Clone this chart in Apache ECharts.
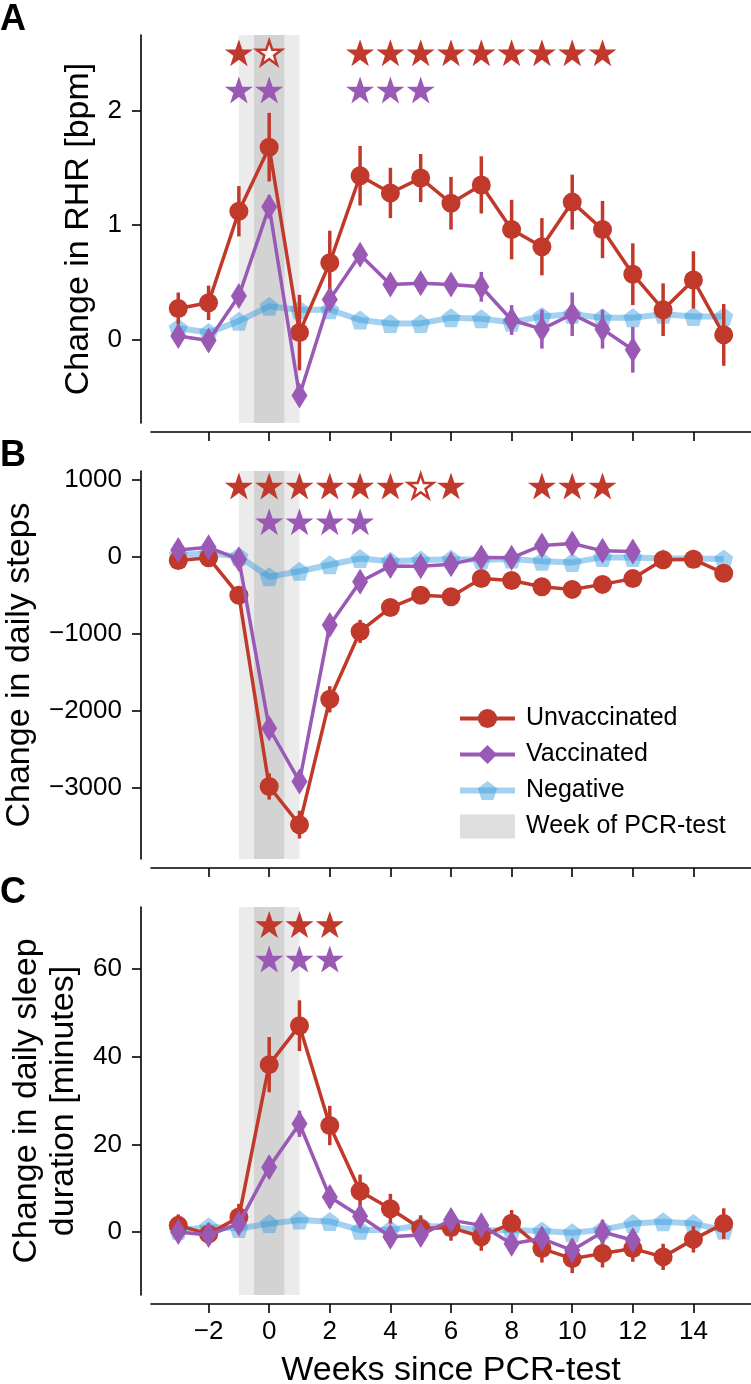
<!DOCTYPE html>
<html>
<head>
<meta charset="utf-8">
<script src="https://cdn.jsdelivr.net/npm/echarts@6/dist/echarts.min.js"></script>
<style>
html,body{margin:0;padding:0;background:#fff;}
#chart{width:751px;height:1384px;}
</style>
</head>
<body>
<div id="chart"></div>
<script>
// weeks since PCR test (x values)
const weeks = [-3,-2,-1,0,1,2,3,4,5,6,7,8,9,10,11,12,13,14,15];
const weeksVacc = [-3,-2,-1,0,1,2,3,4,5,6,7,8,9,10,11,12];
const xTicks = [-2,0,2,4,6,8,10,12,14];
const pcrBands = [[-1,1,0],[-0.5,0.5,1]];

// A - resting heart rate
const rhrUnvacc    = [0.27,0.32,1.12,1.68,0.06,0.67,1.43,1.28,1.41,1.19,1.35,0.96,0.81,1.20,0.96,0.57,0.26,0.52,0.04];
const rhrUnvaccErr = [0.14,0.15,0.22,0.30,0.33,0.28,0.26,0.22,0.21,0.23,0.25,0.26,0.25,0.24,0.25,0.27,0.23,0.25,0.27];
const rhrVacc      = [0.03,-0.01,0.38,1.16,-0.49,0.35,0.74,0.48,0.49,0.48,0.46,0.17,0.09,0.22,0.09,-0.09];
const rhrVaccErr   = [0.06,0.06,0.07,0.10,0.08,0.08,0.08,0.07,0.07,0.07,0.13,0.13,0.17,0.19,0.17,0.20];
const rhrNeg       = [0.10,0.06,0.16,0.29,0.26,0.26,0.17,0.14,0.14,0.19,0.18,0.15,0.20,0.22,0.19,0.19,0.22,0.20,0.20];
const rhrTicks = [0,1,2];
const rhrStarsUnvacc = [-1,3,4,5,6,7,8,9,10,11];
const rhrStarsUnvaccOpen = [0];
const rhrStarsVacc = [-1,0,3,4,5];
const rhrStarRows = [2.505,2.18];

// B - daily steps
const stepsUnvacc    = [-50,-15,-500,-2980,-3475,-1850,-970,-660,-500,-520,-285,-310,-390,-425,-360,-285,-40,-35,-215];
const stepsUnvaccErr = [70,70,110,170,180,170,150,90,80,80,80,80,80,80,80,80,80,80,100];
const stepsVacc      = [85,120,-35,-2225,-2915,-885,-325,-120,-125,-100,-10,-15,145,170,75,65];
const stepsVaccErr   = [60,60,70,130,130,110,80,60,60,60,60,60,60,60,60,60];
const stepsNeg       = [20,45,0,-260,-190,-105,-25,-60,-45,-35,-40,-30,-60,-75,-10,-10,-25,-25,-30];
const stepsTicks = [-3000,-2000,-1000,0,1000];
const stepsStarsUnvacc = [-1,0,1,2,3,4,6,9,10,11];
const stepsStarsUnvaccOpen = [5];
const stepsStarsVacc = [0,1,2,3];
const stepsStarRows = [916,453];

// C - sleep duration
const sleepUnvacc    = [1.5,-0.5,3.4,38.2,47.1,24.3,9.3,5.3,0.8,1.0,-1.1,2.0,-3.8,-6.1,-4.9,-3.8,-5.7,-1.7,1.9];
const sleepUnvaccErr = [2.5,2.5,3.0,6.3,5.8,4.5,3.8,3.4,3.0,3.0,3.2,3.0,3.2,3.3,3.2,3.0,3.0,3.0,3.5];
const sleepVacc      = [0,-0.7,1.9,14.8,24.7,8.0,3.6,-1.1,-0.7,2.7,1.5,-2.7,-1.5,-4.2,0,-1.9];
const sleepVaccErr   = [2,2,2,2.5,3,2.5,2.5,2.3,2.3,2.3,2.3,2.3,2.5,2.5,2.8,2.5];
const sleepNeg       = [0.4,1.1,0.8,1.9,2.7,2.4,0.4,0.5,1.5,1.1,0.4,0.4,0.2,-0.2,0.5,1.9,2.3,1.9,0.4];
const sleepTicks = [0,20,40,60];
const sleepStarsUnvacc = [0,1,2];
const sleepStarsUnvaccOpen = [];
const sleepStarsVacc = [0,1,2];
const sleepStarRows = [70.2,62.3];

const FONT = '"Liberation Sans", Arial, Helvetica, sans-serif';
const RED = '#c0392b', PURPLE = '#9b59b6', BLUE = 'rgba(52,152,219,0.45)';
const STAR = 'path://M50,0L61.8,34.5L98,34.5L68.8,56L80,91L50,69.5L20,91L31.2,56L2,34.5L38.2,34.5Z';
const PENTAGON = 'path://M50,0L100,36.3L80.9,95.1L19.1,95.1L0,36.3Z';

const panels = [
    {title:'Change in RHR [bpm]', gap:44, min:-0.73, max:2.66, ticks:rhrTicks,
     unvacc:rhrUnvacc, unvaccErr:rhrUnvaccErr, vacc:rhrVacc, vaccErr:rhrVaccErr, neg:rhrNeg,
     starsU:rhrStarsUnvacc, starsUOpen:rhrStarsUnvaccOpen, starsV:rhrStarsVacc, rows:rhrStarRows},
    {title:'Change in daily steps', gap:97, min:-3920, max:1110, ticks:stepsTicks,
     unvacc:stepsUnvacc, unvaccErr:stepsUnvaccErr, vacc:stepsVacc, vaccErr:stepsVaccErr, neg:stepsNeg,
     starsU:stepsStarsUnvacc, starsUOpen:stepsStarsUnvaccOpen, starsV:stepsStarsVacc, rows:stepsStarRows},
    {title:'Change in daily sleep\nduration [minutes]', gap:59, min:-14.4, max:74.2, ticks:sleepTicks,
     unvacc:sleepUnvacc, unvaccErr:sleepUnvaccErr, vacc:sleepVacc, vaccErr:sleepVaccErr, neg:sleepNeg,
     starsU:sleepStarsUnvacc, starsUOpen:sleepStarsUnvaccOpen, starsV:sleepStarsVacc, rows:sleepStarRows}
];
const gridTops = [35,471,907];

const minus = v => String(v).replace('-', '\u2212');
const pairs = (xs, ys) => ys.map((y,i)=>[xs[i], y]);
const errData = (xs, ys, es) => ys.map((y,i)=>[xs[i], y-es[i], y+es[i]]);

function errRender(color){
    return function(params, api){
        const a = api.coord([api.value(0), api.value(1)]);
        const b = api.coord([api.value(0), api.value(2)]);
        return {type:'line', shape:{x1:a[0],y1:a[1],x2:b[0],y2:b[1]}, style:{stroke:color, lineWidth:3.5}};
    };
}
function bandRender(params, api){
    const x0 = api.coord([api.value(0), 0])[0];
    const x1 = api.coord([api.value(1), 0])[0];
    const cs = params.coordSys;
    return {type:'rect', shape:{x:x0, y:cs.y, width:x1-x0, height:cs.height},
            style:{fill: api.value(2)===0 ? '#ebebeb' : '#d3d3d3'}};
}

const grid=[], xAxis=[], yAxis=[], series=[];
panels.forEach((p,i)=>{
    grid.push({left:151, width:600, top:gridTops[i], height:388, containLabel:false, outerBoundsMode:'none'});
    xAxis.push({
        type:'value', gridIndex:i, min:-3.9, max:15.9, offset:9,
        name: i===2 ? 'Weeks since PCR-test' : '', nameLocation:'middle', nameGap:50,
        nameTextStyle:{fontSize:34, fontFamily:FONT, color:'#000'},
        axisLine:{show:true, onZero:false, lineStyle:{color:'#000', width:1.6}},
        axisTick:{show:true, length:9, customValues:xTicks, lineStyle:{color:'#000', width:1.6}},
        axisLabel:{show:i===2, customValues:xTicks, fontSize:26, fontFamily:FONT, color:'#000', margin:15, formatter:minus},
        splitLine:{show:false}
    });
    yAxis.push({
        type:'value', gridIndex:i, min:p.min, max:p.max, offset:10,
        name:p.title, nameLocation:'middle', nameGap:p.gap,
        nameTextStyle:{fontSize:34, fontFamily:FONT, color:'#000', lineHeight:37},
        axisLine:{show:true, onZero:false, lineStyle:{color:'#000', width:1.6}},
        axisTick:{show:true, length:9, customValues:p.ticks, lineStyle:{color:'#000', width:1.6}},
        axisLabel:{customValues:p.ticks, fontSize:26, fontFamily:FONT, color:'#000', margin:19, formatter:minus},
        splitLine:{show:false}
    });
    const ax = {xAxisIndex:i, yAxisIndex:i};
    series.push({type:'custom', name:'Week of PCR-test', ...ax, z:0, silent:true,
        itemStyle:{color:'#dedede'}, renderItem:bandRender, data:pcrBands});
    series.push({type:'line', name:'Negative', ...ax, z:1, data:pairs(weeks, p.neg),
        symbol:PENTAGON, symbolSize:19, showAllSymbol:true,
        lineStyle:{color:BLUE, width:6}, itemStyle:{color:BLUE}});
    series.push({type:'custom', ...ax, z:2, silent:true, renderItem:errRender(RED),
        data:errData(weeks, p.unvacc, p.unvaccErr)});
    series.push({type:'line', name:'Unvaccinated', ...ax, z:3, data:pairs(weeks, p.unvacc),
        symbol:'circle', symbolSize:19, showAllSymbol:true,
        lineStyle:{color:RED, width:3.5}, itemStyle:{color:RED}});
    series.push({type:'custom', ...ax, z:4, silent:true, renderItem:errRender(PURPLE),
        data:errData(weeksVacc, p.vacc, p.vaccErr)});
    series.push({type:'line', name:'Vaccinated', ...ax, z:5, data:pairs(weeksVacc, p.vacc),
        symbol:'diamond', symbolSize:[16,26], showAllSymbol:true,
        lineStyle:{color:PURPLE, width:3.5}, itemStyle:{color:PURPLE}});
    // significance stars
    series.push({type:'scatter', ...ax, z:6, silent:true, symbol:STAR, symbolSize:[28,27],
        itemStyle:{color:RED, opacity:1}, data:p.starsU.map(w=>[w, p.rows[0]])});
    series.push({type:'scatter', ...ax, z:6, silent:true, symbol:STAR, symbolSize:[25,24],
        itemStyle:{color:'#fff', borderColor:RED, borderWidth:2.5, opacity:1}, data:p.starsUOpen.map(w=>[w, p.rows[0]])});
    series.push({type:'scatter', ...ax, z:6, silent:true, symbol:STAR, symbolSize:[28,27],
        itemStyle:{color:PURPLE, opacity:1}, data:p.starsV.map(w=>[w, p.rows[1]])});
});

const legendLine = w => ({width:w});
const chart = echarts.init(document.getElementById('chart'), null, {renderer:'canvas'});
chart.setOption({
    animation:false,
    backgroundColor:'#fff',
    grid, xAxis, yAxis, series,
    legend:{
        orient:'vertical', left:452, top:701, selectedMode:false,
        itemWidth:55, itemHeight:24, itemGap:11,
        textStyle:{fontSize:25, fontFamily:FONT, color:'#000', lineHeight:24, padding:[0,0,0,6]},
        data:[
            {name:'Unvaccinated', lineStyle:legendLine(4)},
            {name:'Vaccinated', lineStyle:legendLine(4)},
            {name:'Negative', lineStyle:legendLine(6)},
            {name:'Week of PCR-test', icon:'rect'}
        ]
    },
    graphic:[
        {type:'text', left:0, top:2, style:{text:'A', font:'bold 36px '+FONT, fill:'#000'}},
        {type:'text', left:0, top:438, style:{text:'B', font:'bold 36px '+FONT, fill:'#000'}},
        {type:'text', left:0, top:875, style:{text:'C', font:'bold 36px '+FONT, fill:'#000'}}
    ]
});
</script>
</body>
</html>
